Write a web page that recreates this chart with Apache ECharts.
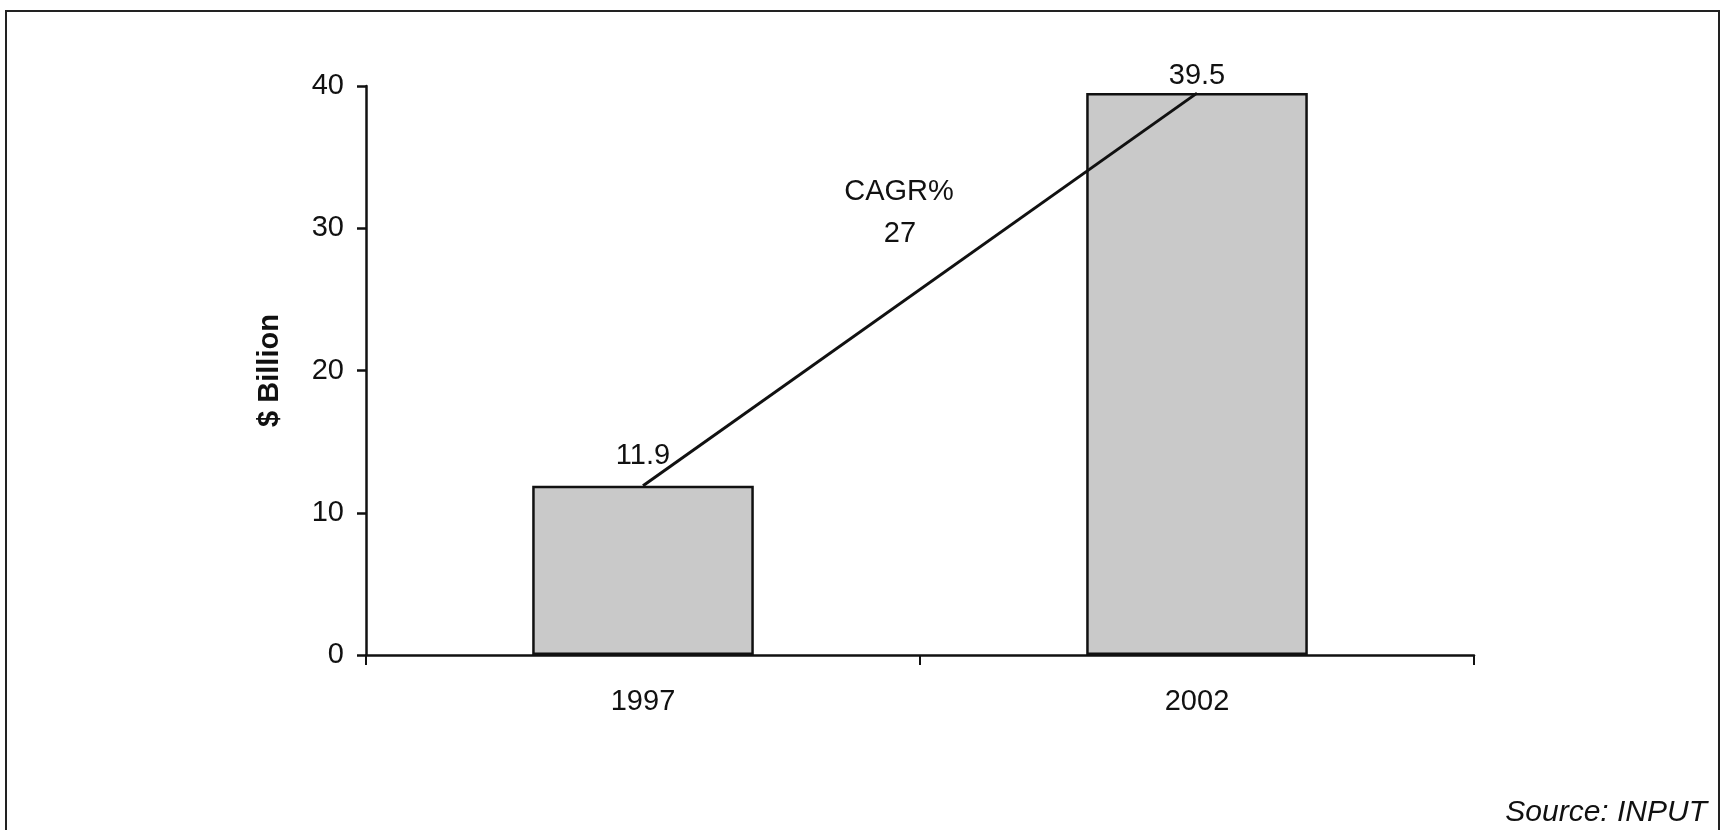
<!DOCTYPE html>
<html>
<head>
<meta charset="utf-8">
<script src="https://cdn.jsdelivr.net/npm/echarts@6/dist/echarts.min.js"></script>
<style>
html,body{margin:0;padding:0;background:#fff;}
#chart{width:1725px;height:830px;}
</style>
</head>
<body>
<div id="chart"></div>
<script>
const categories = ['1997', '2002'];
const values = [11.9, 39.5];
const yTicks = [0, 10, 20, 30, 40];
const cagrLabel = 'CAGR%';
const cagrValue = '27';
const axisName = '$ Billion';
const sourceText = 'Source: INPUT';

const FONT = '"Liberation Sans", Arial, Helvetica, sans-serif';
const FS = 29;
const labelDistances = [15, 3];

const chart = echarts.init(document.getElementById('chart'));
chart.setOption({
  backgroundColor: '#ffffff',
  animation: false,
  grid: { left: 366, right: 251, top: 86, bottom: 175 },
  xAxis: {
    type: 'category',
    data: categories,
    boundaryGap: true,
    axisLine: { lineStyle: { color: '#111', width: 2.5 } },
    axisTick: { show: true, length: 10, lineStyle: { color: '#111', width: 2 } },
    axisLabel: { color: '#111', fontSize: FS, fontFamily: FONT, margin: 32 }
  },
  yAxis: {
    type: 'value',
    min: yTicks[0],
    max: yTicks[yTicks.length - 1],
    interval: 10,
    name: axisName,
    nameLocation: 'middle',
    nameRotate: 90,
    nameGap: 82,
    nameTextStyle: { color: '#111', fontSize: FS, fontWeight: 'bold', fontFamily: FONT },
    splitLine: { show: false },
    axisLine: { show: true, lineStyle: { color: '#111', width: 2.5 } },
    axisTick: { show: true, length: 9, lineStyle: { color: '#111', width: 2.5 } },
    axisLabel: { color: '#111', fontSize: FS, fontFamily: FONT, margin: 22 }
  },
  series: [
    {
      type: 'bar',
      barWidth: '40%',
      data: values.map((v, i) => ({
        value: v,
        label: { distance: labelDistances[i] }
      })),
      itemStyle: { color: '#c9c9c9', borderColor: '#111', borderWidth: 2.5 },
      label: { show: true, position: 'top', color: '#111', fontSize: FS, fontFamily: FONT },
      z: 2
    },
    {
      type: 'line',
      data: values,
      symbol: 'none',
      lineStyle: { color: '#111', width: 3 },
      z: 3
    }
  ],
  graphic: [
    {
      type: 'rect',
      shape: { x: 6, y: 11, width: 1713, height: 830 },
      style: { fill: 'none', stroke: '#222', lineWidth: 2 },
      silent: true
    },
    {
      type: 'text',
      x: 899, y: 192,
      style: { text: cagrLabel, fill: '#111', fontSize: FS, fontFamily: FONT, align: 'center', verticalAlign: 'middle' }
    },
    {
      type: 'text',
      x: 900, y: 234,
      style: { text: cagrValue, fill: '#111', fontSize: FS, fontFamily: FONT, align: 'center', verticalAlign: 'middle' }
    },
    {
      type: 'text',
      x: 1707, y: 813,
      style: { text: sourceText, fill: '#111', fontSize: 30, fontStyle: 'italic', fontFamily: FONT, align: 'right', verticalAlign: 'middle' }
    }
  ]
});
</script>
</body>
</html>
